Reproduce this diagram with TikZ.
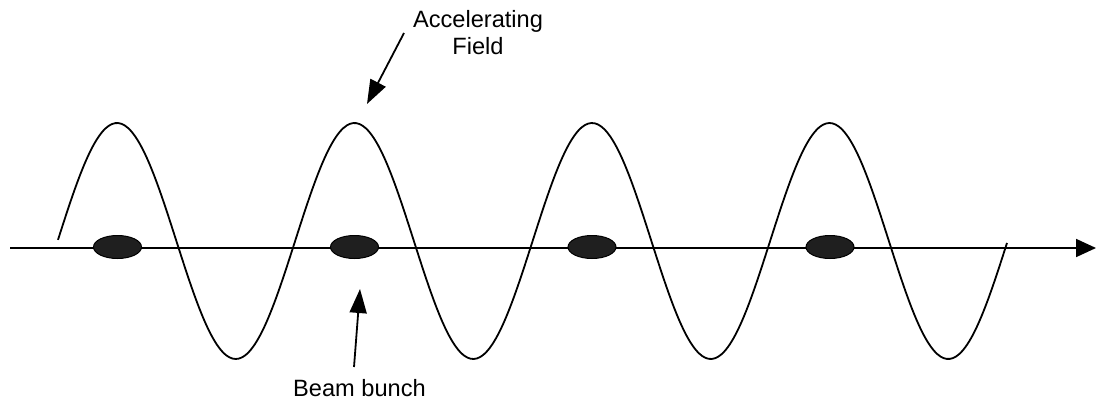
\documentclass[tikz,border=0pt]{standalone}
\usepackage{fontspec}
\setmainfont{Liberation Sans}
\usetikzlibrary{arrows.meta,shapes.geometric}
\tikzset{
  line/.style={line width=1.8pt},
  bunch/.style={ellipse,draw=black,line width=1pt,fill=black!88,minimum width=48pt,minimum height=23pt,inner sep=0pt},
  label/.style={font=\fontsize{23.6}{27}\selectfont,inner sep=0pt,anchor=base},
  pointer/.style={line width=1.8pt,-{Triangle[length=24pt,width=17pt]}}
}
\begin{document}
\begin{tikzpicture}[x=1pt,y=-1pt]
\useasboundingbox (0,0) rectangle (1096,402);
% axis
\coordinate (axL) at (10,248);
\coordinate (axR) at (1096,248);
\draw[line,-{Triangle[length=20pt,width=18pt]}] (axL) -- (axR);
% field wave
\draw[line] plot[domain=58:1007,samples=300,smooth] (\x,{241-118*cos(((\x-117)/237.5)*360)});
% bunches
\node[bunch] (b1) at (117.5,247) {};
\node[bunch] (b2) at (354.5,247) {};
\node[bunch] (b3) at (592,247) {};
\node[bunch] (b4) at (830,247) {};
% labels
\node[label] (acc1) at (478,27) {Accelerating};
\node[label] (acc2) at (478,54) {Field};
\node[label] (beam) at (359.5,396) {Beam bunch};
% pointers
\coordinate (accS) at (404,33);
\coordinate (accE) at (367,104);
\draw[pointer] (accS) -- (accE);
\coordinate (beamS) at (354,367);
\coordinate (beamE) at (360,289);
\draw[pointer] (beamS) -- (beamE);
\end{tikzpicture}
\end{document}
